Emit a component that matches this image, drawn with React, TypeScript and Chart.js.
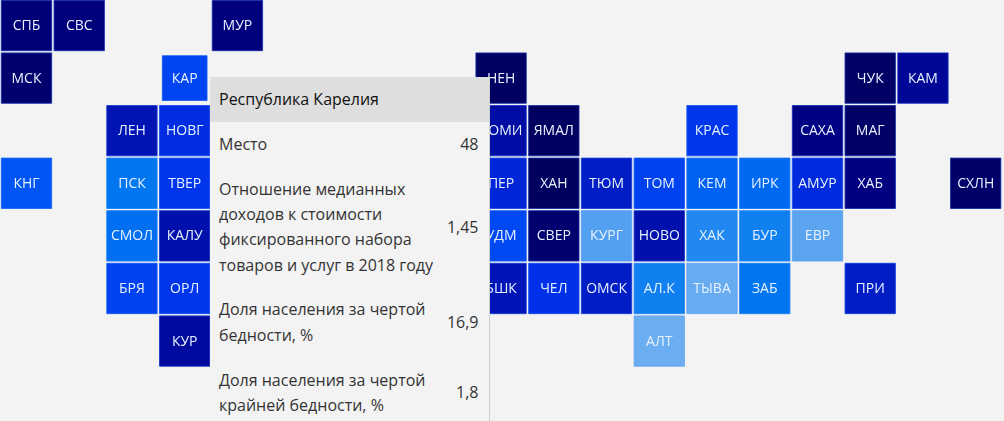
import React, { useEffect, useRef } from "react";
import { Chart, registerables } from "chart.js";

Chart.register(...registerables);

const regionCodes = ["СПБ","СВС","МУР","МСК","КАР","НЕН","ЧУК","КАМ","ЛЕН","НОВГ","КОМИ","ЯМАЛ","КРАС","САХА","МАГ","КНГ","ПСК","ТВЕР","ПЕР","ХАН","ТЮМ","ТОМ","КЕМ","ИРК","АМУР","ХАБ","СХЛН","СМОЛ","КАЛУ","УДМ","СВЕР","КУРГ","НОВО","ХАК","БУР","ЕВР","БРЯ","ОРЛ","БШК","ЧЕЛ","ОМСК","АЛ.К","ТЫВА","ЗАБ","ПРИ","КУР","АЛТ"];
const gridColumns = [0,1,4,0,3,9,16,17,2,3,9,10,13,15,16,0,2,3,9,10,11,12,13,14,15,16,18,2,3,9,10,11,12,13,14,15,2,3,9,10,11,12,13,14,16,3,12];
const gridRows = [0,0,0,1,1,1,1,1,2,2,2,2,2,2,2,3,3,3,3,3,3,3,3,3,3,3,3,4,4,4,4,4,4,4,4,4,5,5,5,5,5,5,5,5,5,6,6];
const regionScores = [12,15,15,8,57,3,4,24,32,48,28,2,52,18,5,62,72,52,44,1,38,56,66,68,46,17,6,70,30,58,8,90,30,80,76,92,56,52,33,50,38,76,96,72,38,26,97];

const activeRegion = "КАР";
const tooltipTitle = "Республика Карелия";
const tooltipRows: [string[], string][] = [
  [["Место"], "48"],
  [["Отношение медианных", "доходов к стоимости", "фиксированного набора", "товаров и услуг в 2018 году"], "1,45"],
  [["Доля населения за чертой", "бедности, %"], "16,9"],
  [["Доля населения за чертой", "крайней бедности, %"], "1,8"],
];

const STOPS: [number, number[]][] = [
  [0, [0, 0, 92]],
  [20, [0, 0, 136]],
  [35, [0, 24, 190]],
  [50, [0, 48, 232]],
  [60, [0, 78, 245]],
  [72, [0, 118, 240]],
  [80, [32, 136, 240]],
  [90, [84, 160, 240]],
  [100, [116, 178, 240]],
];

function tileColor(score: number): string {
  for (let i = 1; i < STOPS.length; i++) {
    const [a, ca] = STOPS[i - 1];
    const [b, cb] = STOPS[i];
    if (score <= b) {
      const t = (score - a) / (b - a);
      const c = ca.map((v, k) => Math.round(v + (cb[k] - v) * t));
      return `rgb(${c[0]},${c[1]},${c[2]})`;
    }
  }
  return "rgb(116,178,240)";
}

function borderColor(score: number): string {
  const [r, g, b] = tileColor(score).match(/\d+/g)!.map(Number);
  return `rgba(${Math.round(r + (90 - r) * 0.2)},${Math.round(g + (150 - g) * 0.3)},${Math.round(b + (255 - b) * 0.4)},0.85)`;
}

const FONT = '"Open Sans", "Noto Sans", sans-serif';

const tileLabels = {
  id: "tileLabels",
  afterDatasetsDraw(chart: any) {
    const { ctx, scales } = chart;
    ctx.save();
    ctx.font = `14px ${FONT}`;
    ctx.textAlign = "center";
    ctx.textBaseline = "middle";
    ctx.fillStyle = "#e8f2ff";
    regionCodes.forEach((code, i) => {
      ctx.fillText(code, scales.x.getPixelForValue(gridColumns[i]), scales.y.getPixelForValue(gridRows[i]) + 0.5);
    });
    ctx.restore();
  },
};

export default function App() {
  const ref = useRef<HTMLCanvasElement>(null);

  useEffect(() => {
    document.body.style.margin = "0";
    document.body.style.background = "#f3f3f3";
    document.body.style.overflow = "hidden";
    const chart = new Chart(ref.current!, {
      type: "scatter",
      data: {
        labels: regionCodes,
        datasets: [
          {
            data: regionCodes.map((_, i) => ({ x: gridColumns[i], y: gridRows[i] })),
            pointStyle: "rect",
            pointRadius: regionCodes.map((c) => (c === activeRegion ? 31.6 : 35.6)),
            pointHoverRadius: regionCodes.map((c) => (c === activeRegion ? 31.6 : 35.6)),
            pointBackgroundColor: regionScores.map(tileColor),
            pointBorderColor: regionScores.map(borderColor),
            pointBorderWidth: 1,
          },
        ],
      },
      options: {
        animation: false,
        responsive: false,
        events: [],
        layout: { padding: 0, autoPadding: false },
        plugins: { legend: { display: false }, tooltip: { enabled: false } },
        scales: {
          x: { type: "linear", display: false, min: -0.5025, max: 18.537 },
          y: { type: "linear", display: false, reverse: true, min: -0.485, max: 7.52 },
        },
      },
      plugins: [tileLabels],
    } as any);
    return () => chart.destroy();
  }, []);

  return (
    <div style={{ position: "fixed", left: 0, top: 0, width: 1004, height: 421, overflow: "hidden", background: "#f3f3f3" }}>
      <canvas ref={ref} width={1004} height={421} style={{ display: "block", width: 1004, height: 421 }} />
      <div
        style={{
          position: "absolute",
          left: 210,
          top: 77,
          width: 279,
          borderRight: "1px solid #cfcfcf",
          background: "#f3f3f3",
          font: `16px/25.3px ${FONT}`,
          color: "#333",
          boxSizing: "content-box",
        }}
      >
        <div style={{ background: "#dedede", color: "#111", height: 45, lineHeight: "45px", paddingLeft: 9 }}>{tooltipTitle}</div>
        {tooltipRows.map(([lines, value], i) => (
          <div key={i} style={{ display: "flex", alignItems: "center", justifyContent: "space-between", padding: "9.8px 10.5px 9.8px 9px" }}>
            <div style={{ whiteSpace: "nowrap" }}>
              {lines.map((l, k) => (
                <div key={k}>{l}</div>
              ))}
            </div>
            <div>{value}</div>
          </div>
        ))}
      </div>
    </div>
  );
}
